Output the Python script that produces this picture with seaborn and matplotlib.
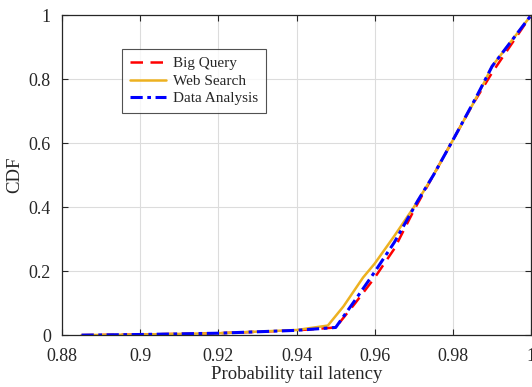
import pandas as pd
import seaborn as sns
import matplotlib.pyplot as plt

# CDF of probability tail latency
big_query_x = [0.885, 0.90, 0.92, 0.94, 0.950, 0.955, 0.960, 0.965, 0.970, 0.975, 0.980, 0.985, 0.990, 0.995, 1.000]
big_query_y = [0.0, 0.002, 0.006, 0.015, 0.024, 0.10, 0.18, 0.27, 0.39, 0.50, 0.61, 0.72, 0.82, 0.91, 1.0]

web_search_x = [0.885, 0.90, 0.92, 0.94, 0.948, 0.952, 0.957, 0.960, 0.965, 0.970, 0.975, 0.980, 0.985, 0.988, 0.990, 0.995, 1.000]
web_search_y = [0.0, 0.002, 0.006, 0.016, 0.030, 0.09, 0.18, 0.224, 0.31, 0.40, 0.50, 0.61, 0.72, 0.79, 0.84, 0.92, 1.0]

data_analysis_x = [0.885, 0.90, 0.92, 0.94, 0.950, 0.955, 0.960, 0.965, 0.971, 0.975, 0.980, 0.986, 0.990, 0.995, 1.000]
data_analysis_y = [0.0, 0.002, 0.006, 0.015, 0.024, 0.11, 0.198, 0.29, 0.42, 0.50, 0.61, 0.745, 0.84, 0.92, 1.0]

sns.set_style("whitegrid")
plt.rcParams['font.family'] = ['Liberation Serif', 'DejaVu Serif']

fig = plt.figure(figsize=(5.32, 3.87), dpi=100)
ax = fig.add_axes([0.1165, 0.134, 0.882, 0.827])

sns.lineplot(x=big_query_x, y=big_query_y, ax=ax, color='#ff0000', lw=1.8,
             linestyle=(0, (5, 3)), label='Big Query')
sns.lineplot(x=web_search_x, y=web_search_y, ax=ax, color='#EDB120', lw=1.8,
             label='Web Search')
sns.lineplot(x=data_analysis_x, y=data_analysis_y, ax=ax, color='#0000ff', lw=2.2,
             linestyle=(0, (4, 1.5, 1.2, 1.5)), label='Data Analysis')

ax.set_xlim(0.88, 1.0)
ax.set_ylim(0, 1)
ax.set_xticks([0.88, 0.9, 0.92, 0.94, 0.96, 0.98, 1.0])
ax.set_xticklabels(['0.88', '0.9', '0.92', '0.94', '0.96', '0.98', '1'])
ax.set_yticks([0, 0.2, 0.4, 0.6, 0.8, 1])
ax.set_yticklabels(['0', '0.2', '0.4', '0.6', '0.8', '1'])
ax.tick_params(direction='in', length=4, width=0.8, labelsize=13, colors='#262626',
               top=True, right=True, bottom=True, left=True)
ax.tick_params(axis='x', pad=9)
ax.tick_params(axis='y', pad=8)
ax.grid(True, color='#dcdcdc', lw=0.8)
for s in ax.spines.values():
    s.set_color('#262626')
    s.set_linewidth(0.9)

ax.set_xlabel('Probability tail latency', fontsize=13.5, labelpad=1)
ax.set_ylabel('CDF', fontsize=13.5, labelpad=4)

leg = ax.legend(loc='upper left', bbox_to_anchor=(0.128, 0.894), borderaxespad=0,
                fontsize=11, frameon=True, fancybox=False, edgecolor='#262626',
                handlelength=2.4, handletextpad=0.45, borderpad=0.5, labelspacing=0.25)
leg.get_frame().set_linewidth(0.8)

fig.savefig('out.png', dpi=100)
